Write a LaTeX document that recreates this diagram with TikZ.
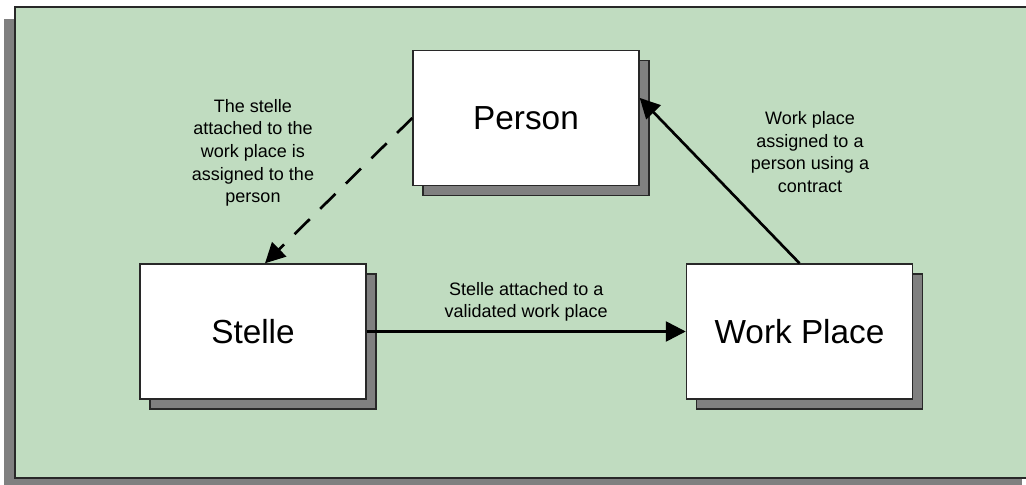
\documentclass[tikz,border=0pt]{standalone}
\usepackage{fontspec}
\setmainfont{Liberation Sans}
\usetikzlibrary{arrows.meta,shadows}
\definecolor{bggreen}{RGB}{192,220,192}
\definecolor{shadowgray}{RGB}{128,128,128}
\definecolor{edgegray}{RGB}{40,40,40}

\tikzset{
  entity/.style={draw=edgegray, line width=1.1pt, fill=white,
    minimum width=169.5pt, minimum height=101.25pt, inner sep=0pt,
    font=\fontsize{25}{30}\selectfont,
    general shadow={shadow xshift=7.5pt, shadow yshift=-7.5pt,
      fill=shadowgray, draw=edgegray}},
  note/.style={align=center, font=\fontsize{13.5}{17}\selectfont},
  link/.style={line width=2pt, -{Triangle[length=15pt,width=15pt]}}
}

\begin{document}
\begin{tikzpicture}[x=0.75pt,y=-0.75pt]
            \clip (0,0) rectangle (1026,485);
            % background panel
            \fill[shadowgray] (4,19) rectangle (1022,485);
            \draw[edgegray, line width=1.5pt, fill=bggreen] (15,7) rectangle (1040,478);
            % entities
            \node[entity] (person) at (526,118) {Person};
            \node[entity] (stelle) at (253,331.5) {Stelle};
            \node[entity] (workplace) at (799.5,331.5) {Work Place};
            % relations
            \draw[link, dash pattern=on 16pt off 11pt] (person.west) -- (stelle.80);
            \draw[link] (workplace.north) -- (person.10);
            \draw[link] (stelle.east) -- (workplace.west)
                node[note, midway, above=3pt] {Stelle attached to a\\validated work place};
            \node[note] (stellenote) at (253,153) {The stelle\\attached to the\\work place is\\assigned to the\\person};
            \node[note] (contractnote) at (810,152) {Work place\\assigned to a\\person using a\\contract};
        \end{tikzpicture}
\end{document}
